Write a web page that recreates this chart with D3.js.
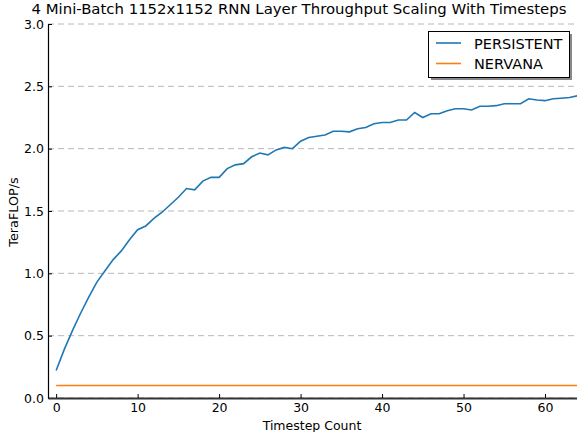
<!DOCTYPE html>
<html><head><meta charset="utf-8">
<script src="https://cdn.jsdelivr.net/npm/d3@7"></script>
<style>body{margin:0;background:#fff}svg{display:block;font-family:"DejaVu Sans",sans-serif}</style>
</head><body><svg id="c" width="577" height="432"></svg>
<script>
const timesteps = d3.range(0, 65);
const persistent = [0.22,0.39,0.54,0.68,0.81,0.93,1.02,1.11,1.18,1.27,
  1.35,1.38,1.44,1.49,1.55,1.61,1.68,1.67,1.74,1.77,
  1.77,1.84,1.87,1.88,1.935,1.965,1.95,1.99,2.01,2.00,
  2.06,2.09,2.10,2.11,2.14,2.14,2.135,2.16,2.17,2.20,
  2.21,2.21,2.23,2.23,2.29,2.25,2.28,2.28,2.305,2.32,
  2.32,2.31,2.34,2.34,2.345,2.36,2.36,2.36,2.40,2.39,
  2.385,2.40,2.405,2.41,2.425];
const nervana = timesteps.map(() => 0.1);
const xTicks = [0,10,20,30,40,50,60];
const yTicks = [0,0.5,1.0,1.5,2.0,2.5,3.0];
const seriesNames = ["PERSISTENT","NERVANA"];
const colors = ["#1f77b4","#ff7f0e"];

const svg = d3.select("#c");
const x = d3.scaleLinear().domain([-1,64]).range([48,577.6]);
const y = d3.scaleLinear().domain([0,3]).range([398,24]);

// grid
svg.append("g").selectAll("line").data(yTicks).join("line")
  .attr("x1",48).attr("x2",577).attr("y1",d=>y(d)).attr("y2",d=>y(d))
  .attr("stroke","#b8b8b8").attr("stroke-width",1).attr("stroke-dasharray","6,4");

// lines
const line = d3.line().x((d,i)=>x(timesteps[i])).y(d=>y(d));
[persistent, nervana].forEach((s,k)=>{
  svg.append("path").datum(s).attr("d",line).attr("fill","none")
    .attr("stroke",colors[k]).attr("stroke-width",1.6);
});

// axes
const yAxis = d3.axisLeft(y).tickValues(yTicks).tickFormat(d3.format(".1f")).tickSizeInner(-4).tickSizeOuter(0).tickPadding(4);
const gy = svg.append("g").attr("transform","translate(48,0)").call(yAxis);
const xAxis = d3.axisBottom(x).tickValues(xTicks).tickSizeInner(-4).tickSizeOuter(0).tickPadding(5);
const gx = svg.append("g").attr("transform","translate(0,398)").call(xAxis);
[gx,gy].forEach(g=>{
  g.selectAll("text").attr("font-size",12.5).attr("fill","#000").attr("font-family","DejaVu Sans");
  g.selectAll(".tick line").attr("stroke","#000");
  g.select(".domain").attr("stroke","#000").attr("stroke-width",1.2);
});
gx.select(".domain").attr("stroke","#333").attr("stroke-width",2);

// labels
svg.append("text").attr("x",299).attr("y",13.5).attr("text-anchor","middle")
  .attr("font-size",14.9).text("4 Mini-Batch 1152x1152 RNN Layer Throughput Scaling With Timesteps");
svg.append("text").attr("x",312).attr("y",430).attr("text-anchor","middle")
  .attr("font-size",12.5).text("Timestep Count");
svg.append("text").attr("transform","translate(18,212) rotate(-90)").attr("text-anchor","middle")
  .attr("font-size",12.8).text("TeraFLOP/s");

// legend
const lg = svg.append("g");
lg.append("rect").attr("x",431).attr("y",34).attr("width",141).attr("height",46).attr("fill","#888");
lg.append("rect").attr("x",428.5).attr("y",31.5).attr("width",141).attr("height",46)
  .attr("fill","#fff").attr("stroke","#000").attr("stroke-width",1);
seriesNames.forEach((n,i)=>{
  const yy = 43 + i*20.5;
  lg.append("line").attr("x1",436).attr("x2",461).attr("y1",yy).attr("y2",yy)
    .attr("stroke",colors[i]).attr("stroke-width",1.6);
  lg.append("text").attr("x",474).attr("y",yy+5.5).attr("font-size",14.5).text(n);
});
</script></body></html>
